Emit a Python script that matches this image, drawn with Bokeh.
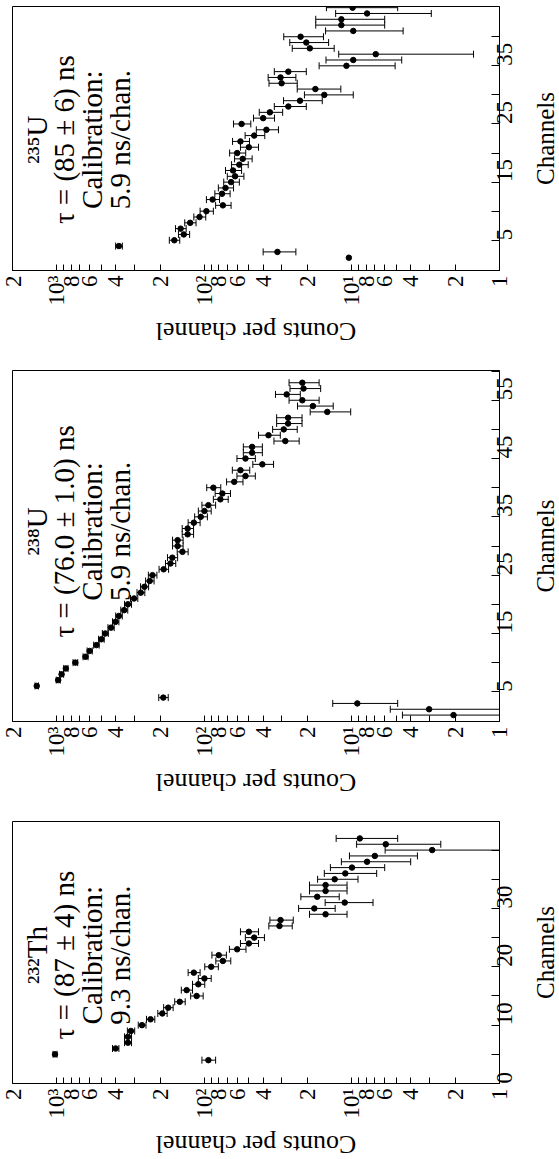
import math

from bokeh.core.properties import value
from bokeh.embed import file_html
from bokeh.layouts import column, row
from bokeh.models import ColumnDataSource, FixedTicker, Label, Range1d
from bokeh.plotting import figure
from bokeh.resources import INLINE

FONT = "Liberation Serif"

# ---- 235U ----
u235_channel = [2, 3, 4, 5, 6, 7, 8, 9, 10, 11, 12, 13, 14, 15, 16, 17, 18, 19, 20,
                21, 22, 23, 24, 25, 26, 27, 28, 29, 30, 31, 32, 33, 34, 35, 36, 37,
                38, 39, 40, 41, 42, 43, 44, 45]
u235_counts = [10.5, 32, 380, 160, 138, 145, 125, 108, 97, 75, 88, 76, 72, 66, 62, 64,
               58, 55, 60, 50, 57, 46, 38, 56, 40, 36, 27, 22.5, 15.4, 17.7, 30, 30.5,
               27, 10.9, 9.8, 6.9, 19.3, 20.4, 22.3, 9.8, 11.8, 11.8, 7.9, 9.9]
u235_error = [0, 8, 20, 13, 12, 12, 11, 10, 10, 9, 9, 9, 8.5, 8, 8, 8, 7.5, 7.5, 7.5,
              7, 7.5, 7, 6.5, 7.5, 6.5, 6.5, 6.6, 6.6, 5.6, 5.8, 6.5, 6.5, 6.6, 5.8,
              5.2, 5.4, 6.1, 6.0, 6.7, 5.3, 5.8, 5.8, 5.0, 5.0]

# ---- 238U ----
u238_channel = [1, 2, 3, 4, 6, 7, 8, 9, 10, 11, 12, 13, 14, 15, 16, 17, 18, 19, 20,
                21, 22, 23, 24, 25, 26, 27, 28, 29, 30, 31, 32, 33, 34, 35, 36, 37,
                38, 39, 40, 41, 42, 43, 44, 45, 46, 47, 48, 49, 50, 51, 52, 53, 54,
                55, 56, 57, 58]
u238_counts = [2.05, 3.0, 9.2, 190, 1370, 980, 930, 870, 750, 640, 600, 540, 500, 470,
               430, 400, 380, 350, 330, 300, 270, 255, 235, 225, 189, 170, 165, 141,
               152, 152, 130, 130, 118, 106, 100, 94, 78, 75.6, 87, 62.8, 52.7, 57,
               40.5, 52.7, 47.5, 47.5, 28.3, 36.8, 29, 27.1, 27.1, 14.7, 18.4, 21.7,
               27.7, 21.3, 21.7]
u238_error = [2.5, 2.5, 4.3, 14, 37, 31, 30, 29, 27, 25, 24, 23, 22, 22, 21, 20, 19.5,
              19, 18, 17, 16.5, 16, 15.5, 15, 14, 13.5, 13, 12, 12.5, 12.5, 11.5, 11.5,
              11, 10.5, 10, 10, 9, 9, 9.5, 8, 7.5, 7.7, 6.5, 7.5, 7, 7, 5.5, 6.2, 5.5,
              5.3, 5.3, 4.5, 5, 5, 5.3, 5, 5]

# ---- 232Th ----
th232_channel = [4, 5, 6, 7, 8, 9, 10, 11, 12, 13, 14, 15, 16, 17, 18, 19, 20, 21, 22,
                 23, 24, 25, 26, 27, 28, 29, 30, 31, 32, 33, 34, 35, 36, 37, 38, 39,
                 40, 41, 42]
th232_counts = [94, 1030, 400, 330, 330, 315, 265, 232, 193, 176, 147, 113, 132, 110,
                100, 118, 90, 75, 80, 60, 50, 46, 50, 31, 30.5, 15.1, 18, 11.2, 17.2,
                15.1, 15.1, 13.1, 11.1, 10.0, 7.9, 7.0, 2.86, 5.9, 8.85]
th232_error = [10, 32, 20, 18, 18, 18, 16, 15, 14, 13, 12, 11, 11.5, 10.5, 10, 11, 9.5,
               8.7, 9, 7.7, 7, 6.8, 7, 5.6, 5.5, 4.3, 5, 4, 5, 4.3, 4.3, 4, 4.3, 4,
               3.9, 3.4, 3.1, 3.4, 3.95]

# counts-axis ticks (log scale) and their labels
count_ticks = [1, 2, 3, 4, 5, 6, 7, 8, 9,
               10, 20, 30, 40, 50, 60, 70, 80, 90,
               100, 200, 300, 400, 500, 600, 700, 800, 900,
               1000, 2000]
count_tick_labels = ["1", "2", "", "4", "", "6", "", "8", "",
                     "10¹", "2", "", "4", "", "6", "", "8", "",
                     "10²", "2", "", "4", "", "6", "", "8", "",
                     "10³", "2"]

panels = [
    dict(channel=u235_channel, counts=u235_counts, error=u235_error,
         ymax=45.2, ymin=-0.2, labeled=[5, 15, 25, 35], unlabeled=[10, 20, 30, 40],
         text=["²³⁵U", "τ = (85 ± 6) ns", "Calibration:", "5.9 ns/chan."],
         text_y=22.3, top=6, frame=264, bottom=94),
    dict(channel=u238_channel, counts=u238_counts, error=u238_error,
         ymax=60.1, ymin=-0.1, labeled=[5, 15, 25, 35, 45, 55],
         unlabeled=[10, 20, 30, 40, 50, 60],
         text=["²³⁸U", "τ = (76.0 ± 1.0) ns", "Calibration:", "5.9 ns/chan."],
         text_y=32.5, top=6, frame=351, bottom=94),
    dict(channel=th232_channel, counts=th232_counts, error=th232_error,
         ymax=44.9, ymin=0.0, labeled=[0, 10, 20, 30], unlabeled=[5, 15, 25, 35, 40],
         text=["²³²Th", "τ = (87 ± 4) ns", "Calibration:", "9.3 ns/chan."],
         text_y=22.0, top=6, frame=262, bottom=76),
]

# horizontal positions (in counts) of the four annotation lines
TEXT_X = [1356, 889, 574, 371]

TOTAL_W = 559
SIDE_W = 29          # strip holding the "Channels" title
TICK_H = 45          # room under the frame for the counts tick labels
MAIN_W = TOTAL_W - SIDE_W
LEFT = 12
RIGHT = MAIN_W - 499


def bare_figure(width, height, x_range, y_range, top=0, bottom=0):
    s = figure(width=width, height=height, x_range=x_range, y_range=y_range,
               x_axis_location=None, y_axis_location=None,
               output_backend="svg", toolbar_location=None,
               min_border_left=0, min_border_right=0,
               min_border_top=top, min_border_bottom=bottom)
    s.grid.visible = False
    s.outline_line_color = None
    s.background_fill_color = "white"
    s.border_fill_color = "white"
    return s


def make_panel(cfg):
    ch = cfg["channel"]
    cnt = cfg["counts"]
    err = cfg["error"]
    lo = [max(c - e, 0.5) for c, e in zip(cnt, err)]
    hi = [c + e for c, e in zip(cnt, err)]
    src = ColumnDataSource(dict(ch=ch, cnt=cnt))
    bars = ColumnDataSource(dict(
        ch=[c for c, e in zip(ch, err) if e > 0],
        lo=[l for l, e in zip(lo, err) if e > 0],
        hi=[h for h, e in zip(hi, err) if e > 0],
    ))

    main_h = cfg["top"] + cfg["frame"] + TICK_H
    yr = Range1d(cfg["ymin"], cfg["ymax"])
    p = figure(width=MAIN_W, height=main_h,
               x_axis_type="log", x_range=Range1d(2000, 1), y_range=yr,
               y_axis_location="right",
               output_backend="svg", toolbar_location=None,
               min_border_left=LEFT, min_border_right=RIGHT,
               min_border_top=cfg["top"], min_border_bottom=TICK_H)
    p.xgrid.visible = False
    p.ygrid.visible = False
    p.outline_line_color = "black"
    p.outline_line_alpha = 1.0
    p.outline_line_width = 1
    p.background_fill_color = "white"
    p.border_fill_color = "white"

    # error bars with end caps
    p.segment(x0="lo", x1="hi", y0="ch", y1="ch", source=bars,
              line_color="black", line_width=1)
    p.scatter(x="lo", y="ch", source=bars, marker="dash", angle=math.pi / 2,
              size=7, line_color="black", line_width=1)
    p.scatter(x="hi", y="ch", source=bars, marker="dash", angle=math.pi / 2,
              size=7, line_color="black", line_width=1)
    p.scatter(x="cnt", y="ch", source=src, size=5.5, color="black")

    # counts axis
    xa = p.xaxis[0]
    xa.ticker = FixedTicker(ticks=count_ticks)
    xa.major_label_overrides = {t: s for t, s in zip(count_ticks, count_tick_labels)}
    xa.major_tick_in = 6
    xa.major_tick_out = 0
    xa.minor_tick_in = 0
    xa.minor_tick_out = 0
    xa.major_label_orientation = math.pi / 2
    xa.major_label_text_font = FONT
    xa.major_label_text_font_size = "23px"
    xa.major_label_text_color = "black"
    xa.major_label_standoff = 5
    xa.axis_line_color = "black"

    # channel axis
    ya = p.yaxis[0]
    ya.ticker = FixedTicker(ticks=cfg["labeled"], minor_ticks=cfg["unlabeled"])
    ya.major_tick_in = 8
    ya.major_tick_out = 0
    ya.minor_tick_in = 8
    ya.minor_tick_out = 0
    ya.minor_tick_line_color = "black"
    ya.major_label_orientation = math.pi / 2
    ya.major_label_text_font = FONT
    ya.major_label_text_font_size = "23px"
    ya.major_label_text_color = "black"
    ya.major_label_standoff = 5
    ya.axis_line_color = "black"

    for tx, line in zip(TEXT_X, cfg["text"]):
        p.add_layout(Label(x=tx, y=cfg["text_y"], text=line, angle=math.pi / 2,
                           text_align="center", text_baseline="middle",
                           text_font=FONT, text_font_size="29px", text_color="black"))

    # "Channels" title beside the channel axis, centred on the channel range
    side = bare_figure(SIDE_W, main_h, Range1d(0, 1), yr,
                       top=cfg["top"], bottom=TICK_H)
    side.text(x=[0.5], y=[0.5 * (cfg["ymin"] + cfg["ymax"])], text=["Channels"],
              angle=math.pi / 2, text_align="center", text_baseline="middle",
              text_font=value(FONT), text_font_size="25px", text_color="black")

    # "Counts per channel" title under the counts axis, upside down
    strip_h = cfg["bottom"] - TICK_H
    below = bare_figure(TOTAL_W, strip_h, Range1d(0, TOTAL_W), Range1d(0, strip_h))
    below.text(x=[(LEFT + 499) / 2], y=[strip_h - 15.5], text=["Counts per channel"],
               angle=math.pi, text_align="center", text_baseline="middle",
               text_font=value(FONT), text_font_size="26px", text_color="black")
    return column(row(p, side, spacing=0), below, spacing=0)


layout = column(*[make_panel(cfg) for cfg in panels], spacing=0)

open("out.html", "w").write(file_html(layout, INLINE))
